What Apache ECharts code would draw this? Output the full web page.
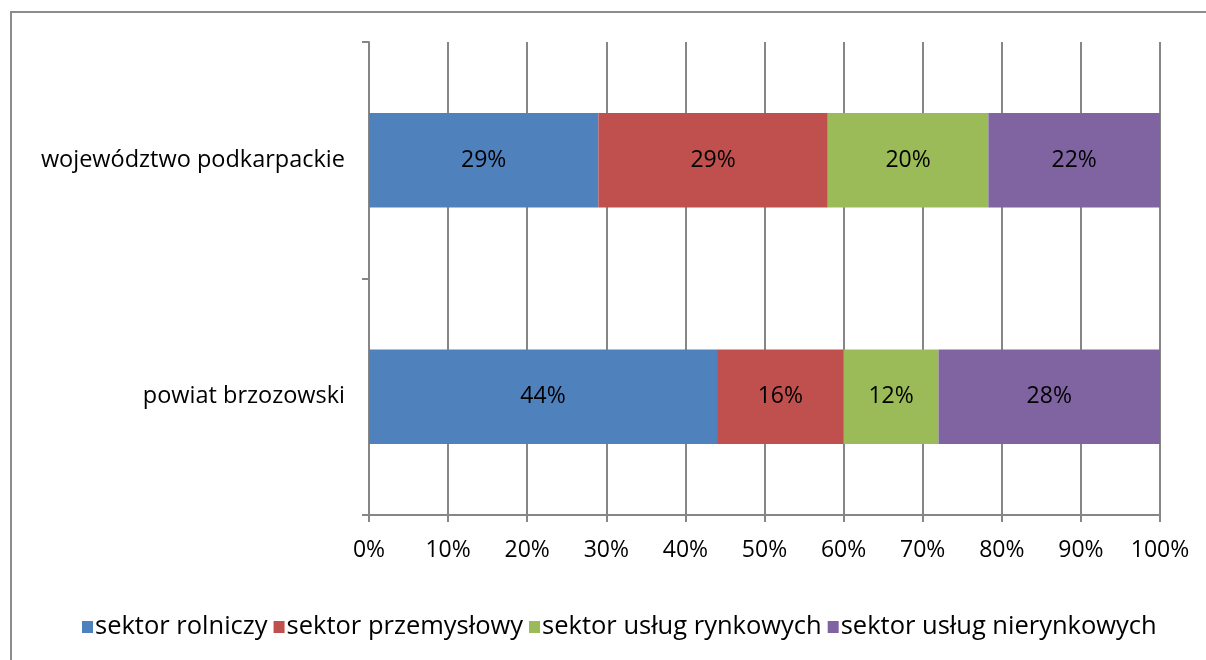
<!DOCTYPE html>
<html>
<head>
<meta charset="utf-8">
<script src="https://cdn.jsdelivr.net/npm/echarts@6/dist/echarts.min.js"></script>
<style>
  html, body { margin: 0; padding: 0; background: #fff; }
  #chart { width: 1206px; height: 660px; }
</style>
</head>
<body>
<div id="chart"></div>
<script>
// kategorie (od dołu)
const categories = ['powiat brzozowski', 'województwo podkarpackie'];
const seriesNames = ['sektor rolniczy', 'sektor przemysłowy', 'sektor usług rynkowych', 'sektor usług nierynkowych'];
const rolniczy = [44.0, 29.0];
const przemyslowy = [16.0, 29.0];
const rynkowe = [12.0, 20.3];
const nierynkowe = [28.0, 21.7];
const colors = ['#4F81BD', '#C0504D', '#9BBB59', '#8064A2'];

const font = 'Open Sans, Noto Sans, sans-serif';
const values = [rolniczy, przemyslowy, rynkowe, nierynkowe];

const chart = echarts.init(document.getElementById('chart'));

chart.setOption({
    animation: false,
    graphic: [{
        type: 'rect',
        shape: { x: 11, y: 12, width: 1200, height: 660 },
        style: { fill: 'none', stroke: '#8c8c8c', lineWidth: 2 },
        silent: true
    }],
    grid: { left: 369, right: 46, top: 42, bottom: 145 },
    legend: {
        top: 614,
        left: 82,
        itemWidth: 11,
        itemHeight: 12,
        itemGap: 6,
        padding: 0,
        icon: 'rect',
        textStyle: { fontFamily: font, fontSize: 25.5, color: '#000', padding: [0, 0, 0, -3] },
        data: seriesNames
    },
    xAxis: {
        type: 'value',
        min: 0,
        max: 100,
        interval: 10,
        axisLine: { show: true, lineStyle: { color: '#868686', width: 2 } },
        axisTick: { show: true, length: 7, lineStyle: { color: '#868686', width: 2 } },
        splitLine: { show: true, lineStyle: { color: '#868686', width: 2 } },
        axisLabel: {
            formatter: '{value}%',
            fontFamily: font,
            fontSize: 23,
            color: '#000',
            margin: 24
        }
    },
    yAxis: {
        type: 'category',
        data: categories,
        axisLine: { show: true, lineStyle: { color: '#868686', width: 2 } },
        axisTick: { show: true, length: 7, lineStyle: { color: '#868686', width: 2 } },
        axisLabel: {
            fontFamily: font,
            fontSize: 23.5,
            color: '#000',
            margin: 24
        }
    },
    series: seriesNames.map((name, i) => ({
        name: name,
        type: 'bar',
        stack: 'total',
        data: values[i],
        barCategoryGap: '60%',
        itemStyle: { color: colors[i] },
        label: {
            show: true,
            position: 'inside',
            fontFamily: font,
            fontSize: 23,
            color: '#000',
            formatter: p => Math.round(p.value) + '%'
        }
    }))
});
</script>
</body>
</html>
